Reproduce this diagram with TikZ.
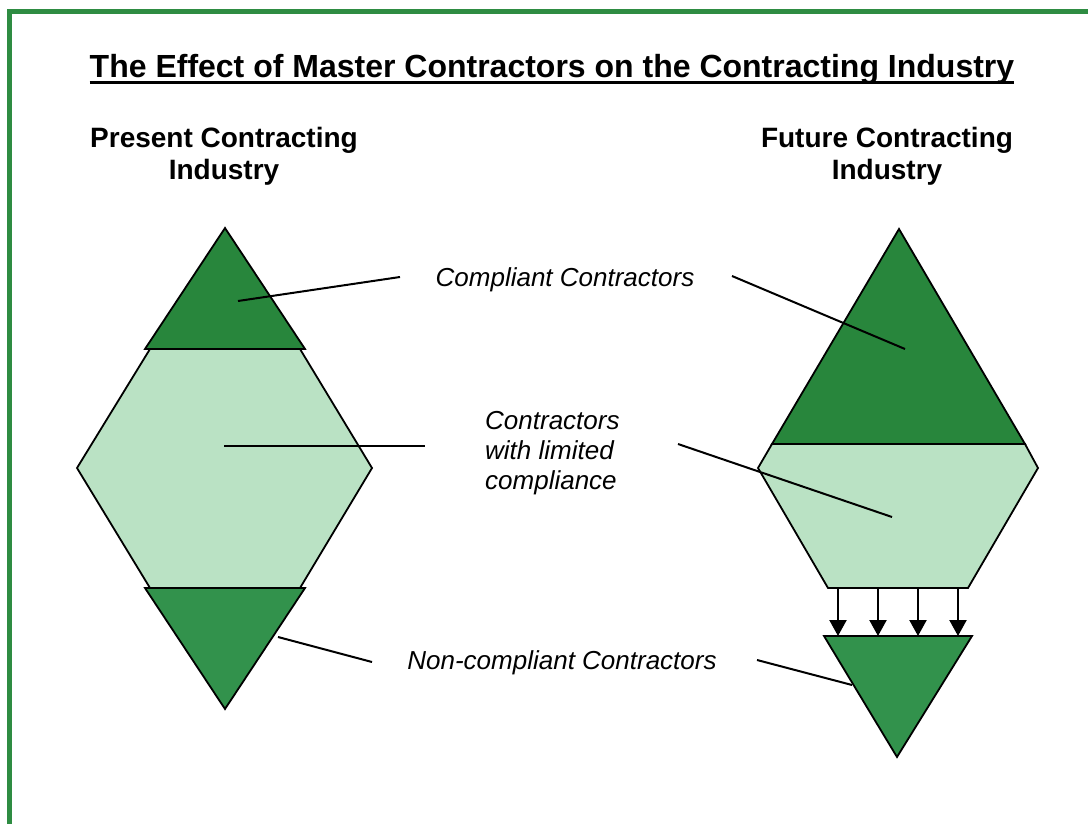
\documentclass[tikz,border=0pt]{standalone}
\usepackage{fontspec}
\setmainfont{Liberation Sans}
\usepackage{tikz}
\usetikzlibrary{arrows.meta}

\definecolor{darkleaf}{RGB}{40,134,60}
\definecolor{midleaf}{RGB}{50,146,76}
\definecolor{paleleaf}{RGB}{186,226,196}
\definecolor{rimgreen}{RGB}{46,140,66}

\begin{document}
\begin{tikzpicture}[x=1pt,y=-1pt,
	heading/.style={font=\bfseries\fontsize{28}{32}\selectfont, align=center, inner sep=0pt, anchor=north},
	tag/.style={font=\itshape\fontsize{26}{30}\selectfont, inner sep=0pt},
	dark/.style={draw=black, line width=1.8pt, fill=darkleaf},
	mid/.style={draw=black, line width=1.8pt, fill=midleaf},
	pale/.style={draw=black, line width=1.8pt, fill=paleleaf},
	leader/.style={line width=2pt},
	drop/.style={line width=2.2pt, -{Triangle[width=17pt,length=16pt]}}]
	
	\useasboundingbox (0,0) rectangle (1088,824);
	\fill[white] (0,0) rectangle (1088,824);
	\draw[rimgreen, line width=5pt] (9.5,824) -- (9.5,11.5) -- (1088,11.5);
	
	\node[font=\bfseries\fontsize{32}{38}\selectfont, inner sep=0pt, anchor=base](title) at (552,78){The Effect of Master Contractors on the Contracting Industry};
	\draw[line width=3pt] ([yshift=-4.5pt]title.base west) -- ([yshift=-4.5pt]title.base east);
	
	\node[heading](present) at (224,127){Present Contracting\\Industry};
	\node[heading](future) at (887,127){Future Contracting\\Industry};
	
	% present industry
	\draw[pale] (150,349) -- (300,349) -- (372,468) -- (300,588) -- (150,588) -- (77,468) -- cycle;
	\draw[dark] (225,228) -- (305,349) -- (145,349) -- cycle;
	\draw[mid] (145,588) -- (305,588) -- (225,709) -- cycle;
	
	% future industry
	\draw[pale] (772,444) -- (1025,444) -- (1038,468) -- (968,588) -- (828,588) -- (758,468) -- cycle;
	\draw[dark] (899,229) -- (1025,444) -- (772,444) -- cycle;
	\draw[mid] (824,636) -- (972,636) -- (897,757) -- cycle;
	
	\foreach \x in {838,878,918,958}{
		\coordinate(from\x) at (\x,588);
		\coordinate(to\x) at (\x,636);
		\draw[drop] (from\x) -- (to\x);
	}
	
	\node[tag, anchor=base](compl) at (565,286){Compliant Contractors};
	\node[tag, anchor=north west, align=left](limited) at (485,411){Contractors\\with limited\\compliance};
	\node[tag, anchor=base](noncompl) at (562,669){Non-compliant Contractors};
	
	\coordinate(p_compl) at (238,301);
	\coordinate(p_limited) at (224,446);
	\coordinate(p_noncompl) at (278,637);
	\coordinate(f_compl) at (905,349);
	\coordinate(f_limited) at (892,517);
	\coordinate(f_noncompl) at (852,685);
	
	\coordinate(compl_l) at (400,277);
	\coordinate(compl_r) at (732,276);
	\coordinate(limited_l) at (425,446);
	\coordinate(limited_r) at (678,444);
	\coordinate(noncompl_l) at (372,662);
	\coordinate(noncompl_r) at (757,660);
	
	\draw[leader] (p_compl) -- (compl_l);
	\draw[leader] (compl_r) -- (f_compl);
	\draw[leader] (p_limited) -- (limited_l);
	\draw[leader] (limited_r) -- (f_limited);
	\draw[leader] (p_noncompl) -- (noncompl_l);
	\draw[leader] (noncompl_r) -- (f_noncompl);
	
\end{tikzpicture}
\end{document}
